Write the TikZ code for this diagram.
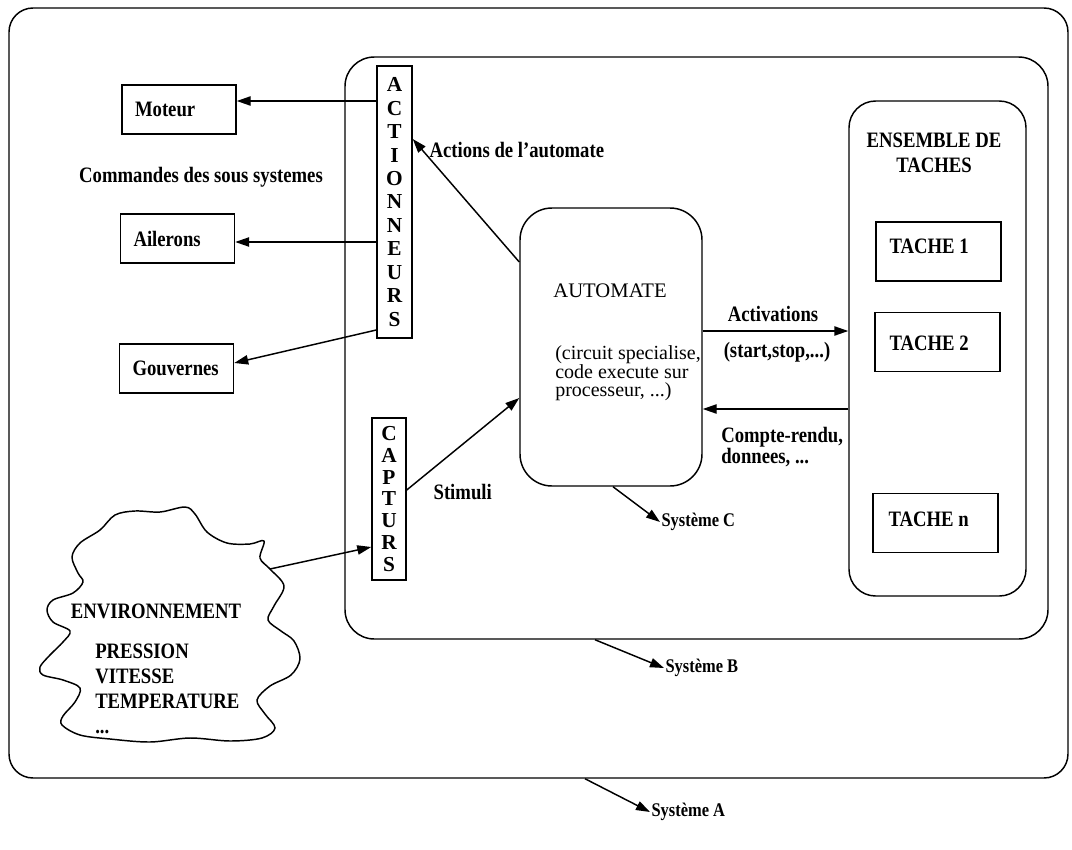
\documentclass[tikz,border=0pt]{standalone}
\usepackage{fontspec}
\setmainfont{Liberation Serif}
\newfontfamily\condfont{Liberation Serif}[FakeStretch=0.85]
\usetikzlibrary{arrows.meta}

% condensed bold text used for most labels
\newcommand\bfc{\condfont\bfseries\fontsize{16.5}{19.5}\selectfont}
\newcommand\sysfont{\condfont\bfseries\fontsize{14.5}{17}\selectfont}

\tikzset{
  box/.style={draw, line width=1.1pt, inner sep=0pt},
  arr/.style={-{Triangle[length=10.5pt,width=7pt]}, line width=1.1pt},
  cmdbox/.style={box, minimum width=85pt, minimum height=37pt, text width=66pt,
                 inner xsep=9.75pt, align=left, font=\bfc},
  taskbox/.style={box, minimum width=94pt, minimum height=44.5pt},
  lbl/.style={font=\bfc, inner sep=1pt},
  syslbl/.style={font=\sysfont, inner sep=1pt, anchor=west},
  column/.style={box, align=center},
}

\begin{document}
\begin{tikzpicture}[x=0.75pt,y=-0.75pt]
\useasboundingbox (0,0) rectangle (1072,850);

% nested systems
\node[box, rounded corners=18pt, minimum width=794.25pt, minimum height=577.5pt] (sysA) at (538.5,393) {};
\node[box, rounded corners=22pt, minimum width=527.25pt, minimum height=436.5pt] (sysB) at (696.5,348) {};

% actuators and sensors columns
\node[column, minimum width=26.25pt, minimum height=204pt,
      font=\bfseries\fontsize{16}{17.6}\selectfont] (act) at (394.5,202)
  {A\\C\\T\\I\\O\\N\\N\\E\\U\\R\\S};
\node[column, minimum width=25.5pt, minimum height=121.5pt,
      font=\bfseries\fontsize{16}{16.3}\selectfont] (capt) at (389,499)
  {C\\A\\P\\T\\U\\R\\S};

% controlled subsystems
\node[cmdbox] (moteur) at (179,109.5) {Moteur};
\node[cmdbox] (ail) at (177.5,238.5) {Ailerons};
\node[cmdbox] (gouv) at (176.5,368.5) {Gouvernes};
\node[lbl] (cmdlbl) at (201,177) {Commandes des sous systemes};

% controller
\node[box, rounded corners=24pt, minimum width=136.5pt, minimum height=208.5pt] (auto) at (611,347) {};
\node[font=\fontsize{15.5}{15}\selectfont, inner sep=0pt] (autotitle) at (610,291) {AUTOMATE};
\node[font=\fontsize{15}{13.5}\selectfont, inner sep=0pt, anchor=north west, align=left] (autodesc) at (555,345)
  {(circuit specialise,\\code execute sur\\processeur, ...)};

% task set
\node[box, rounded corners=20pt, minimum width=132.75pt, minimum height=371.25pt] (ens) at (937.5,348.5) {};
\node[font=\condfont\bfseries\fontsize{16.5}{18.75}\selectfont, align=center] (enstitle) at (934,152.5) {ENSEMBLE DE\\TACHES};
\node[taskbox] (t1) at (938.5,251.5) {};
\node[taskbox] (t2) at (937.5,342) {};
\node[taskbox] (tn) at (935.5,523) {};
\node[lbl, anchor=west] (t1lbl) at (888,246) {TACHE 1};
\node[lbl, anchor=west] (t2lbl) at (888,343) {TACHE 2};
\node[lbl, anchor=west] (tnlbl) at (887,519) {TACHE n};

% environment cloud
\draw[line width=1.1pt] plot[smooth cycle, tension=0.55] coordinates {
  (115,515) (135,511) (160,512) (185,507) (195,514) (207,532) (227,543) (250,544)
  (264,541) (260,558) (270,569) (284,586) (274,606) (268,620) (281,631) (294,641)
  (300,659) (291,675) (270,686) (257,700) (265,714) (275,728) (262,738) (230,741)
  (190,738) (150,742) (110,739) (80,735) (62,725) (63,716) (75,702) (80,688)
  (63,680) (43,675) (40,667) (50,655) (63,642) (70,631) (53,622) (47,610)
  (53,600) (73,593) (83,582) (78,573) (72,557) (80,543) (100,530)};
\coordinate (cloudpt) at (270,569);
\node[lbl] (envlbl) at (156,611) {ENVIRONNEMENT};
\node[font=\condfont\bfseries\fontsize{16.5}{18.75}\selectfont, inner sep=0pt, anchor=north west, align=left]
  (envlist) at (95,644) {PRESSION\\VITESSE\\TEMPERATURE\\...};

% labels of the flows
\node[lbl, anchor=west] (actlbl) at (428,150) {Actions de l’automate};
\node[lbl, anchor=west] (stimlbl) at (432,492) {Stimuli};
\node[lbl] (actvlbl) at (773,314) {Activations};
\node[lbl] (startlbl) at (777,352) {(start,stop,...)};
\node[font=\condfont\bfseries\fontsize{16.5}{15.75}\selectfont, inner sep=0pt, anchor=north west, align=left]
  (crlbl) at (721,427) {Compte-rendu,\\donnees, ...};

% system labels
\node[syslbl] (sysClbl) at (660,522) {Système C};
\node[syslbl] (sysBlbl) at (664,668) {Système B};
\node[syslbl] (sysAlbl) at (650,812) {Système A};

% connectors
\draw[arr] (act.west |- 0,101) -- (moteur.east |- 0,101);
\draw[arr] (act.west |- 0,242) -- (ail.east |- 0,242);
\draw[arr] (act.west |- 0,330) -- (gouv.east |- 0,363);
\draw[arr] (auto.west |- 0,262) -- (act.east |- 0,139);
\draw[arr] (capt.east |- 0,490) -- (auto.west |- 0,398);
\draw[arr] (cloudpt) -- (capt.west |- 0,547);
\draw[arr] (auto.east |- 0,331) -- (ens.west |- 0,331);
\draw[arr] (ens.west |- 0,409) -- (auto.east |- 0,409);
\draw[arr] (auto.south -| 613,0) -- (sysClbl.west);
\draw[arr] (sysB.south -| 595,0) -- (sysBlbl.west);
\draw[arr] (sysA.south -| 585,0) -- (sysAlbl.west);
\end{tikzpicture}
\end{document}
